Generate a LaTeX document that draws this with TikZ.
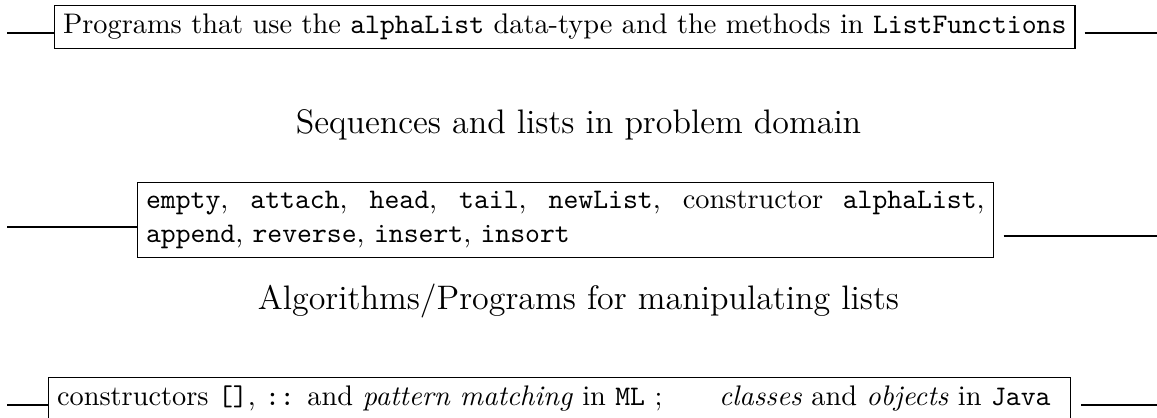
\documentclass[tikz,border=0pt]{standalone}
\begin{document}
\begin{tikzpicture}[x=0.353pt,y=-0.353pt,
  box/.style={draw, line width=0.4pt, inner sep=3pt, anchor=north west},
  caption/.style={anchor=base, inner sep=0pt, font=\large},
  conn/.style={line width=0.4pt}]
\useasboundingbox (0,0) rectangle (1157,417);
% top box
\node[box] (top) at (54,5)
  {Programs that use the \texttt{alphaList} data-type and the methods in \texttt{ListFunctions}};
\coordinate (tl) at (7,33);
\coordinate (tr) at (1157,33);
\draw[conn] (tl) -- (tl -| top.west);
\draw[conn] (tr -| top.east) ++(9,0) -- (tr);
% caption 1
\node[caption] (c1) at (578.5,133) {Sequences and lists in problem domain};
% middle box
\node[box, text width=296pt, align=justify] (mid) at (137,182)
  {\texttt{empty}, \texttt{attach}, \texttt{head}, \texttt{tail}, \texttt{newList}, constructor \texttt{alphaList},\linebreak
   \texttt{append}, \texttt{reverse}, \texttt{insert}, \texttt{insort}};
\coordinate (ml) at (7,227);
\coordinate (mr) at (1157,236);
\draw[conn] (ml) -- (ml -| mid.west);
\draw[conn] (mr -| mid.east) ++(10,0) -- (mr);
% caption 2
\node[caption] (c2) at (578.5,309) {Algorithms/Programs for manipulating lists};
% bottom box
\node[box] (bot) at (48,377)
  {\makebox[354.8pt][l]{constructors \texttt{[]}, \texttt{::} and \emph{pattern matching} in \texttt{ML} ;\qquad\emph{classes} and \emph{objects} in \texttt{Java}}};
\coordinate (bl) at (7,405);
\coordinate (br) at (1157,405);
\draw[conn] (bl) -- (bl -| bot.west);
\draw[conn] (br -| bot.east) ++(10,0) -- (br);
\end{tikzpicture}
\end{document}
